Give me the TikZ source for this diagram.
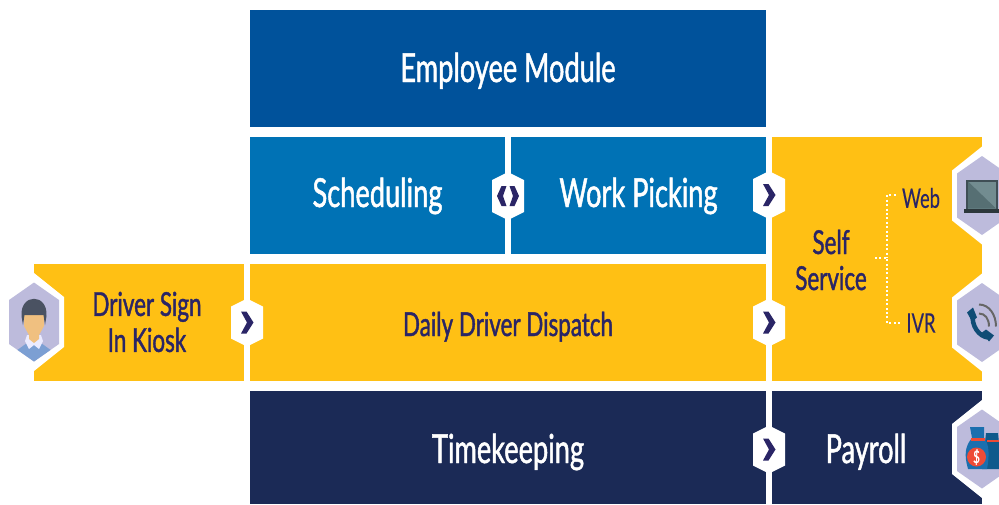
\documentclass[tikz,border=0pt]{standalone}
\usepackage{fontspec}
\setmainfont[FakeStretch=0.68,FakeBold=1.2]{Lato}
\newfontfamily\plainfont[FakeStretch=0.68,FakeBold=0.2]{Lato}
\usetikzlibrary{positioning}
\definecolor{darkblue}{HTML}{00529B}
\definecolor{midblue}{HTML}{0072B5}
\definecolor{sunny}{HTML}{FFC014}
\definecolor{navy}{HTML}{1B2A56}
\definecolor{lilac}{HTML}{BDBBDC}
\definecolor{arrowink}{HTML}{2A2566}
\definecolor{shirt}{HTML}{7C9FD3}
\definecolor{skin}{HTML}{F0C080}
\definecolor{hair}{HTML}{4A5262}
\definecolor{phoneblue}{HTML}{0F4C75}
\definecolor{screenlight}{HTML}{728C90}
\definecolor{screendark}{HTML}{566F73}
\definecolor{framegrey}{HTML}{3F4E55}
\definecolor{bagblue}{HTML}{1B6FAE}
\definecolor{bagdark}{HTML}{0F5A8C}
\definecolor{bagred}{HTML}{EE4B36}
\newcommand{\lilacpath}{(0,-39.5) -- (25,-22) -- (25,22) -- (0,39.5) -- (-25,22) -- (-25,-22) -- cycle}
\tikzset{
  block/.style={inner sep=0pt, minimum height=#1},
  whitetext/.style={text=white, font=\fontsize{40}{40}\selectfont, text height=#1, text depth=4pt},
  inktext/.style={text=arrowink, font=\fontsize{33}{36}\selectfont, align=center},
  dispatchtext/.style={inktext, text height=27pt, text depth=0pt},
  smalltext/.style={text=arrowink, font=\plainfont\fontsize{27}{27}\selectfont},
  dots/.style={white, line width=2pt, dash pattern=on 2pt off 2.4pt},
  linkhex/.pic={
    \fill[white] (0,-24) -- (16,-16) -- (16,16) -- (0,24) -- (-16,16) -- (-16,-16) -- cycle;
  },
  rightarrow/.pic={
    \pic {linkhex};
    \fill[arrowink] (-6,-11) -- (-0.5,-11) -- (6.5,0) -- (-0.5,11) -- (-6,11) -- (0,0) -- cycle;
  },
  botharrow/.pic={
    \pic {linkhex};
    \fill[arrowink] (-1.5,-10) -- (-6.5,-10) -- (-11,0) -- (-6.5,10) -- (-1.5,10) -- (-5,0) -- cycle;
    \fill[arrowink] (1.5,-10) -- (6.5,-10) -- (11,0) -- (6.5,10) -- (1.5,10) -- (5,0) -- cycle;
  },
  iconhex/.pic={
    \fill[white] (0,-49) -- (30,-25) -- (30,25) -- (0,49) -- (-30,25) -- (-30,-25) -- cycle;
    \fill[lilac] \lilacpath;
  }
}
\begin{document}
\begin{tikzpicture}[x=1pt,y=-1pt]
\useasboundingbox (0,0) rectangle (999,504);
\clip (0,0) rectangle (999,504);

\node[block=117pt, minimum width=516pt, fill=darkblue, whitetext=31pt] (employee) at (508,68.5) {Employee Module};
\node[block=117pt, minimum width=255pt, fill=midblue, whitetext=27pt] (scheduling) at (377.5,195.5) {Scheduling};
\node[block=117pt, minimum width=255pt, fill=midblue, whitetext=27pt] (picking) at (638.5,195.5) {Work Picking};
\node[block=117pt, minimum width=516pt, fill=sunny, dispatchtext] (dispatch) at (508,322.5) {Daily Driver Dispatch};
\node[block=117pt, minimum width=210pt, fill=sunny] (kiosk) at (139,322.5) {};
\node[block=244pt, minimum width=210pt, fill=sunny] (self) at (877,259) {};
\node[block=113pt, minimum width=516pt, fill=navy, whitetext=35pt] (timekeeping) at (508,447.5) {Timekeeping};
\node[block=113pt, minimum width=210pt, fill=navy] (payroll) at (877,447.5) {};

\pic (hexuser) at (34,322) {iconhex};
\pic (hexlaptop) at (982,195.5) {iconhex};
\pic (hexphone) at (982,322.5) {iconhex};
\pic (hexmoney) at (982,449) {iconhex};

\node[inktext] (kiosktext) at (147,322) {Driver Sign\\In Kiosk};
\node[inktext] (selftext) at (831,260) {Self\\Service};
\node[smalltext] (web) at (921,198) {Web};
\node[smalltext] (ivr) at (921,323) {IVR};
\node[whitetext=35pt] (payrolltext) at (866,447.5) {Payroll};

\coordinate (treein) at (875,258);
\coordinate (treemid) at (887,258);
\draw[dots] (treein) -- (treemid);
\draw[dots] (web.west) ++(-3,-3) -| (treemid);
\draw[dots] (ivr.west) ++(-3,0) -| (treemid);

\pic (linkboth) at (508,196) {botharrow};
\pic (linkpick) at (769,195) {rightarrow};
\pic (linkdispatch) at (769,322.5) {rightarrow};
\pic (linkkiosk) at (247,322.5) {rightarrow};
\pic (linktime) at (769,449.5) {rightarrow};

\begin{scope}[shift={(34,322)}]
\clip \lilacpath;
\fill[shirt] (-20,40) -- (-18,29) -- (-7,21) -- (7,21) -- (18,29) -- (20,40) -- cycle;
\fill[white!92!blue] (-9,19) -- (-5,27) -- (0,23) -- (5,27) -- (9,19) -- (7,13) -- (-7,13) -- cycle;
\fill[skin] (-10,-12) -- (10,-12) -- (10,4) -- (5,13) -- (5,17) -- (0,21) -- (-5,17) -- (-5,13) -- (-10,4) -- cycle;
\fill[hair] (-12.5,-6) .. controls (-14,-29) and (14,-29) .. (12.5,-6) -- (11,3) -- (9.5,-7) -- (-9.5,-7) -- (-11,3) -- cycle;
\end{scope}

\begin{scope}[shift={(982,195.5)}]
\fill[framegrey] (-16,-16) rectangle (16,14);
\fill[screenlight] (-14,-14) rectangle (14,13);
\fill[screendark] (-14,-14) -- (14,13) -- (-14,13) -- cycle;
\fill[framegrey!70!black] (-18,13) rectangle (18,17);
\end{scope}

\begin{scope}[shift={(982,322.5)}]
\draw[line width=4.5pt, phoneblue] (-9,-8) .. controls (-11,3) and (-3,14) .. (6,15);
\fill[phoneblue] (-15,-10) -- (-9,-15) -- (-5,-5) -- (-10,-1) -- cycle;
\fill[phoneblue] (0,10) -- (4,7) -- (12,13) -- (7,19) -- cycle;
\draw[line width=2pt, gray!80!black] (-3,-9) .. controls (3,-9) and (7,-4) .. (7,4);
\draw[line width=2pt, gray!80!black] (-3,-18) .. controls (7,-18) and (14,-8) .. (14,4);
\end{scope}

\begin{scope}[shift={(982,449)}]
\fill[bagdark] (4,-16) -- (16,-16) -- (17,-6) .. controls (22,2) and (22,10) .. (20,20) -- (0,20) -- cycle;
\fill[bagred] (5,-9) rectangle (17,-7);
\fill[bagblue] (-12,-22) -- (2,-22) -- (2,-11) .. controls (8,-5) and (7,10) .. (5,20) -- (-14,20) .. controls (-18,6) and (-17,-3) .. (-10,-11) -- cycle;
\fill[bagred] (-11,-11) rectangle (3,-8);
\node[circle, fill=bagred, inner sep=0pt, minimum size=19pt, text=white, font=\fontsize{17}{17}\selectfont] (dollar) at (-5.5,8) {\$};
\end{scope}
\end{tikzpicture}
\end{document}
